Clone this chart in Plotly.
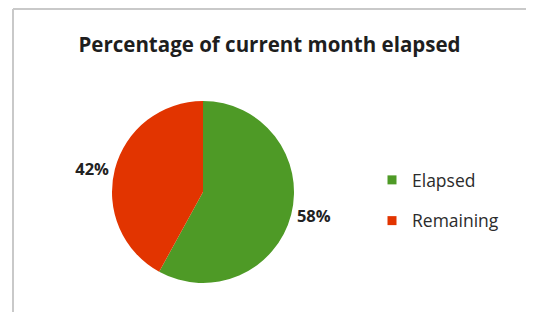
import plotly.graph_objects as go

# The page body has an 8px default margin: the figure starts at (8, 8) of the window.
OFF = 8
W, H = 534 - OFF, 320 - 2 * OFF

categories = ["Elapsed", "Remaining"]
values = [58, 42]
colors = ["#4E9A26", "#E23400"]
title_text = "Percentage of current month elapsed"

def px_x(p):
    return (p - OFF) / W

def px_y(p):
    return 1 - (p - OFF) / H

fig = go.Figure()

fig.add_trace(go.Pie(
    labels=categories,
    values=values,
    sort=False,
    direction="clockwise",
    rotation=0,
    marker=dict(colors=colors, line=dict(width=0)),
    textinfo="percent",
    texttemplate="%{percent:.0%}",
    textposition="outside",
    textfont=dict(family="Open Sans", size=16.5, color="#222222", weight="bold"),
    showlegend=False,
    domain=dict(x=[px_x(112), px_x(294)], y=[px_y(283), px_y(101)]),
    hoverinfo="label+percent",
))

# legend entries
for name, col in zip(categories, colors):
    fig.add_trace(go.Scatter(
        x=[None], y=[None], mode="markers", name=name,
        legendgroup=name,
        marker=dict(symbol="square", size=9, color=col),
    ))

frame = dict(color="#C9C9C9", width=2)
fig.update_layout(
    width=W, height=H,
    margin=dict(l=0, r=0, t=0, b=0),
    paper_bgcolor="white",
    plot_bgcolor="rgba(0,0,0,0)",
    font=dict(family="Open Sans", color="#2B2B2B"),
    title=dict(text=title_text, x=(269.5 - OFF) / W, xanchor="center",
               y=px_y(45), yanchor="middle",
               font=dict(family="Open Sans", size=20.5, color="#1E1E1E", weight="bold")),
    xaxis=dict(visible=False),
    yaxis=dict(visible=False),
    showlegend=True,
    legend=dict(x=px_x(372), y=px_y(162), xanchor="left", yanchor="top",
                font=dict(family="Open Sans", size=17.5, color="#2B2B2B"),
                tracegroupgap=15, itemsizing="trace", bgcolor="rgba(0,0,0,0)"),
    shapes=[
        dict(type="line", xref="paper", yref="paper", x0=px_x(13), x1=1,
             y0=px_y(9), y1=px_y(9), line=frame, layer="below"),
        dict(type="line", xref="paper", yref="paper", x0=px_x(13), x1=px_x(13),
             y0=0, y1=px_y(9), line=frame, layer="below"),
    ],
)

fig.write_html("out.html",
               post_script="document.documentElement.style.overflow='hidden';")
